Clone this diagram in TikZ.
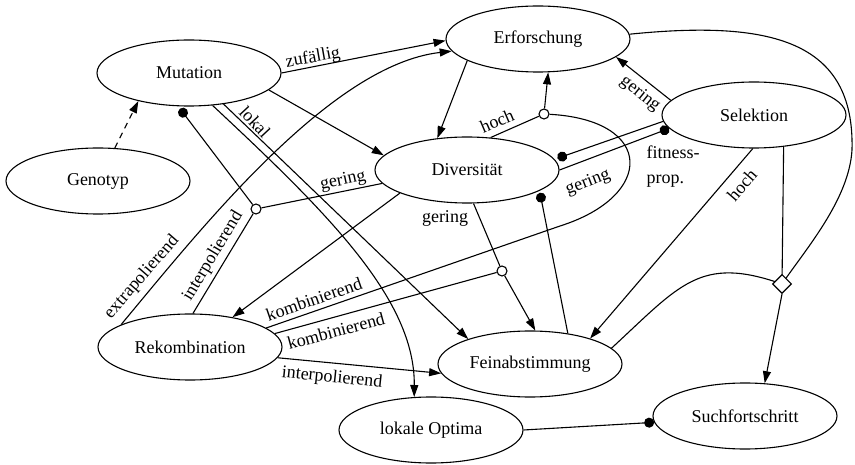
\documentclass[tikz,border=0pt]{standalone}
\usepackage{fontspec}
\setmainfont{Liberation Serif}
\usetikzlibrary{arrows.meta,shapes.geometric}
\begin{document}
\begin{tikzpicture}[x=1pt,y=-1pt,
  state/.style={draw,ellipse,line width=1.1pt,minimum width=184pt,minimum height=66pt,inner sep=0pt,font=\fontsize{18}{21}\selectfont},
  junc/.style={draw,circle,fill=white,line width=1.1pt,minimum size=10pt,inner sep=0pt},
  diam/.style={draw,diamond,fill=white,line width=1.1pt,minimum size=19pt,inner sep=0pt},
  conn/.style={line width=1.1pt},
  arr/.style={conn,-{Triangle[length=12pt,width=8pt]}},
  dotarr/.style={conn,-{Circle[length=10pt]}},
  lab/.style={font=\fontsize{18}{21}\selectfont,inner sep=1pt},
]
\useasboundingbox (0,0) rectangle (855,465);
\node[state] (mut) at (189,73) {Mutation};
\node[state] (gen) at (98,181) {Genotyp};
\node[state] (erf) at (538,39) {Erforschung};
\node[state] (sel) at (754,115) {Selektion};
\node[state] (div) at (467,170) {Diversität};
\node[state] (rek) at (190,347) {Rekombination};
\node[state] (fein) at (530,364) {Feinabstimmung};
\node[state] (lok) at (431,430) {lokale Optima};
\node[state] (such) at (745,416) {Suchfortschritt};
\coordinate (k1) at (560,226);

\draw[arr,dash pattern=on 6pt off 5pt] (gen.63) -- (mut.209);
\draw[arr] (mut.0) -- (erf.181);
\draw[arr] (rek.162) .. controls (200,230) and (330,65) .. (erf.188);
\draw[arr] (mut.-12) -- (div.170);
\draw[arr] (erf.197) -- (div.133);
\draw[arr] (mut.-42) -- (fein.158);
\draw[arr] (mut.-54) .. controls (330,215) and (415,300) .. (lok.117);
\draw[arr] (div.199) -- (rek.35);
\draw[arr] (sel.170) -- (erf.-13);
\draw[dotarr,shorten >=3pt] (sel.184) -- (div.7);
\draw[dotarr] (div.0) -- (sel.189);
\draw[dotarr,shorten >=2pt] (fein.39) -- (div.-16);
\draw[arr] (sel.-92) -- (fein.23);
\draw[arr] (rek.-7) -- (fein.186);
\draw[conn] (erf.3) .. controls (770,20) and (855,40) .. (852,150) .. controls (849,200) and (805,250) .. (782,284);
\draw[conn] (fein.11) .. controls (680,285) and (700,255) .. (782,284);
\draw[conn] (sel.-47) -- (782,284);
\draw[dotarr] (lok.0) -- (such.184);

\node[junc] (c1) at (256,209) {};
\node[junc] (c2) at (544,114) {};
\node[junc] (c3) at (502,271) {};
\node[diam] (d) at (782,284) {};

\draw[dotarr,shorten >=3pt] (c1) -- (mut.252);
\draw[conn] (c1) -- (div.189);
\draw[conn] (rek.85) -- (c1);
\draw[conn] (div.281) -- (c3);
\draw[arr] (c3) -- (fein.81);
\draw[conn] (rek.9) -- (c3);
\draw[conn] (rek.14) -- (k1) .. controls (655,196) and (655,120) .. (c2);
\draw[arr] (c2) -- (erf.-73);
\draw[conn] (div.54) -- (c2);
\draw[arr] (d.south) -- (such.59);

\node[lab,rotate=10] (lzuf) at (313,58) {zufällig};
\node[lab,rotate=-47] (llok) at (255,122) {lokal};
\node[lab,rotate=49] (lext) at (142,277) {extrapolierend};
\node[lab,rotate=59] (lint1) at (213,256) {interpolierend};
\node[lab,rotate=12] (lger1) at (343,181) {gering};
\node[lab] (lger2) at (445,218) {gering};
\node[lab,rotate=23] (lhoch1) at (497,121) {hoch};
\node[lab,rotate=-39] (lger3) at (640,94) {gering};
\node[lab,rotate=21] (lger4) at (588,183) {gering};
\node[lab,align=left,font=\fontsize{18}{25}\selectfont] (lfit) at (673,167) {fitness-\\prop.};
\node[lab,rotate=49] (lhoch2) at (742,185) {hoch};
\node[lab,rotate=19] (lkomb1) at (314,299) {kombinierend};
\node[lab,rotate=15] (lkomb2) at (336,331) {kombinierend};
\node[lab,rotate=-6] (lint2) at (332,378) {interpolierend};
\end{tikzpicture}
\end{document}
